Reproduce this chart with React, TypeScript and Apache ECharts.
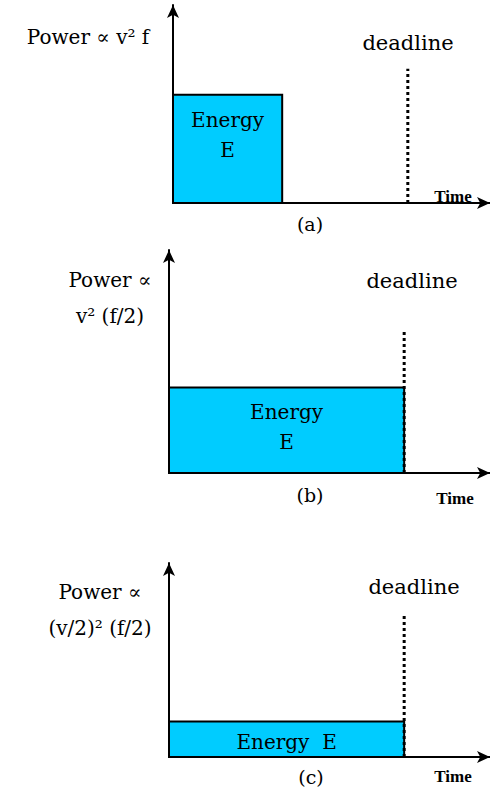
import React, { useEffect, useRef } from "react";
import * as echarts from "echarts";

// ---- data ----
const panelCaptions = ["(a)", "(b)", "(c)"];
const powerLabels = [["Power ∝ v² f"], ["Power ∝", "v² (f/2)"], ["Power ∝", "(v/2)² (f/2)"]];
const energyLabels = ["Energy\nE", "Energy\nE", "Energy  E"];
const runDuration = [0.93, 2.0, 2.0]; // time units the task runs
const powerLevel = [1.0, 0.79, 0.33]; // relative power
const deadlineTime = [2.0, 2.0, 2.0];
const deadlineMarkTop = [1.24, 1.32, 1.31];
const timeAxisMax = [2.7, 2.73, 2.73];
const powerAxisMax = [1.83, 2.06, 1.8];
const deadlineText = "deadline";
const timeText = "Time";

// ---- layout / style ----
const SERIF = "DejaVu Serif";
const SERIF_BOLD = "Liberation Serif";
const grids = [
  { left: 173, top: 5, width: 317, height: 198 },
  { left: 169, top: 250, width: 321, height: 223 },
  { left: 169, top: 563, width: 321, height: 194 },
];
const energyOffset = [10, 10, 6];
const powerLabelPos = [
  { x: 88, y: 37 },
  { x: 110, y: 280 },
  { x: 100, y: 592 },
];
const deadlinePos = [
  { x: 408, y: 43 },
  { x: 412, y: 281 },
  { x: 414, y: 587 },
];
const captionPos = [
  { x: 310, y: 224 },
  { x: 310, y: 495 },
  { x: 311, y: 777 },
];
const timePos = [
  { x: 453, y: 196 },
  { x: 455, y: 498 },
  { x: 453, y: 776 },
];

function buildOption() {
  const axisLine = {
    show: true,
    symbol: ["none", "arrow"],
    symbolSize: [9, 13],
    lineStyle: { color: "#000", width: 2 },
  };
  const hiddenBits = {
    axisTick: { show: false },
    axisLabel: { show: false },
    splitLine: { show: false },
  };

  const xAxis = grids.map((_, i) => ({
    type: "value",
    gridIndex: i,
    min: 0,
    max: timeAxisMax[i],
    axisLine,
    ...hiddenBits,
  }));
  const yAxis = grids.map((_, i) => ({
    type: "value",
    gridIndex: i,
    min: 0,
    max: powerAxisMax[i],
    axisLine,
    ...hiddenBits,
  }));

  const series: any[] = grids.map((_, i) => ({
    type: "custom",
    xAxisIndex: i,
    yAxisIndex: i,
    z: 3,
    data: [[0, runDuration[i], powerLevel[i]]],
    renderItem: (params: any, api: any) => {
      const tl = api.coord([api.value(0), api.value(2)]);
      const br = api.coord([api.value(1), 0]);
      return {
        type: "group",
        children: [
          {
            type: "rect",
            shape: { x: tl[0], y: tl[1], width: br[0] - tl[0], height: br[1] - tl[1] },
            style: { fill: "#00ccff", stroke: "#000", lineWidth: 2 },
          },
          {
            type: "text",
            x: (tl[0] + br[0]) / 2,
            y: tl[1] + energyOffset[i],
            style: {
              text: energyLabels[i],
              align: "center",
              verticalAlign: "top",
              fontSize: 20,
              fontFamily: SERIF,
              lineHeight: 30,
              fill: "#000",
            },
          },
        ],
      };
    },
  }));

  grids.forEach((_, i) => {
    series.push({
      type: "line",
      xAxisIndex: i,
      yAxisIndex: i,
      z: 4,
      symbol: "none",
      data: [
        [deadlineTime[i], 0],
        [deadlineTime[i], deadlineMarkTop[i]],
      ],
      lineStyle: { color: "#000", width: 3, type: [3, 3] },
    });
  });

  const graphic: any[] = [];
  grids.forEach((_, i) => {
    graphic.push({
      type: "text",
      x: powerLabelPos[i].x,
      y: powerLabelPos[i].y - 18,
      style: {
        text: powerLabels[i].join("\n"),
        align: "center",
        verticalAlign: "top",
        fontSize: 20,
        fontFamily: SERIF,
        lineHeight: 36,
        fill: "#000",
      },
    });
    graphic.push({
      type: "text",
      x: deadlinePos[i].x,
      y: deadlinePos[i].y,
      style: {
        text: deadlineText,
        align: "center",
        verticalAlign: "middle",
        fontSize: 21,
        fontFamily: SERIF,
        fill: "#000",
      },
    });
    graphic.push({
      type: "text",
      x: captionPos[i].x,
      y: captionPos[i].y,
      style: {
        text: panelCaptions[i],
        align: "center",
        verticalAlign: "middle",
        fontSize: 19,
        fontFamily: SERIF,
        fill: "#000",
      },
    });
    graphic.push({
      type: "text",
      x: timePos[i].x,
      y: timePos[i].y,
      style: {
        text: timeText,
        align: "center",
        verticalAlign: "middle",
        fontSize: 17,
        fontWeight: "bold",
        fontFamily: SERIF_BOLD,
        fill: "#000",
      },
    });
  });

  return {
    animation: false,
    backgroundColor: "#ffffff",
    grid: grids,
    xAxis,
    yAxis,
    series,
    graphic,
  };
}

export default function App() {
  const ref = useRef<HTMLDivElement>(null);

  useEffect(() => {
    document.body.style.margin = "0";
    const chart = echarts.init(ref.current!, null, { renderer: "svg" });
    chart.setOption(buildOption());
    return () => chart.dispose();
  }, []);

  return <div ref={ref} style={{ width: 490, height: 792 }} />;
}
